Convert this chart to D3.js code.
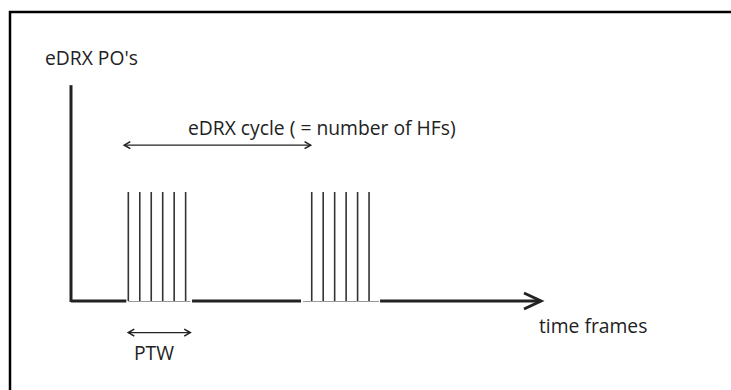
<!DOCTYPE html>
<html>
  <head>
    <meta charset="utf-8">
    <title>eDRX PO's</title>
    <style>
      body { margin: 0; background: #fff; }
      text { font-family: 'Open Sans', sans-serif; fill: #222; }
    </style>
  </head>
  <body>
    <div id="chart"></div>
    <script src="https://cdn.jsdelivr.net/npm/d3@7"></script>
    <script>
      // paging occasions (time units), one array per PTW
      var ptw1 = [5, 6, 7, 8, 9, 10];
      var ptw2 = [21, 22, 23, 24, 25, 26];
      var poHeight = 1;
      // axis line pieces: thick where idle, thin under each PTW
      var thickSegments = [[0, 5], [10.56, 20.24], [26.96, 41]];
      var thinSegments = [[5, 10.4], [20.24, 26.87]];
      // annotation spans
      var cycleSpan = [4.65, 20.9];
      var ptwSpan = [5, 10.4];
      var labels = {
        yTitle: "eDRX PO's",
        cycle: 'eDRX cycle ( = number of HFs)',
        ptw: 'PTW',
        xTitle: 'time frames'
      };

      var width = 731;
      var height = 390;
      var fontSize = 19.3;
      var svg = d3.select('#chart')
        .append('svg')
        .attr('width', width)
        .attr('height', height);

      var x = d3.scaleLinear().domain([0, 41]).range([71, 541]);
      var y = d3.scaleLinear().domain([0, 2]).range([301, 83]);

      // frame: top and left edges only
      svg.append('path')
        .attr('d', 'M10,' + height + 'V12H' + width)
        .attr('fill', 'none')
        .attr('stroke', '#000')
        .attr('stroke-width', 2.5);

      // y axis
      svg.append('line')
        .attr('x1', x(0)).attr('x2', x(0))
        .attr('y1', y(0) + 1).attr('y2', y(1.98))
        .attr('stroke', '#222').attr('stroke-width', 3);

      // x axis pieces
      svg.selectAll('line.thick')
        .data(thickSegments)
        .enter().append('line')
        .attr('class', 'thick')
        .attr('x1', function(d) { return x(d[0]); })
        .attr('x2', function(d) { return x(d[1]) - 2; })
        .attr('y1', y(0)).attr('y2', y(0))
        .attr('stroke', '#222').attr('stroke-width', 3);
      svg.selectAll('line.thin')
        .data(thinSegments)
        .enter().append('line')
        .attr('class', 'thin')
        .attr('x1', function(d) { return x(d[0]); })
        .attr('x2', function(d) { return x(d[1]); })
        .attr('y1', y(0) + 0.5).attr('y2', y(0) + 0.5)
        .attr('stroke', '#999').attr('stroke-width', 1);

      // x axis arrow head
      var tip = x(41);
      svg.append('path')
        .attr('d', 'M' + (tip - 17) + ',' + (y(0) - 8) + 'L' + tip + ',' + y(0) +
          'L' + (tip - 17) + ',' + (y(0) + 8))
        .attr('fill', 'none')
        .attr('stroke', '#222').attr('stroke-width', 3);

      // paging occasions
      svg.selectAll('line.po')
        .data(ptw1.concat(ptw2))
        .enter().append('line')
        .attr('class', 'po')
        .attr('x1', function(d) { return x(d); })
        .attr('x2', function(d) { return x(d); })
        .attr('y1', y(0))
        .attr('y2', y(poHeight))
        .attr('stroke', '#333').attr('stroke-width', 1.6);

      function doubleArrow(span, yv) {
        var x0 = x(span[0]), x1 = x(span[1]), yy = y(yv);
        svg.append('line')
          .attr('x1', x0).attr('x2', x1)
          .attr('y1', yy).attr('y2', yy)
          .attr('stroke', '#222').attr('stroke-width', 1.3);
        svg.append('path')
          .attr('d', 'M' + (x0 + 6) + ',' + (yy - 3.5) + 'L' + x0 + ',' + yy + 'L' + (x0 + 6) + ',' + (yy + 3.5) +
            'M' + (x1 - 6) + ',' + (yy - 3.5) + 'L' + x1 + ',' + yy + 'L' + (x1 - 6) + ',' + (yy + 3.5))
          .attr('fill', 'none')
          .attr('stroke', '#222').attr('stroke-width', 1.6);
      }
      doubleArrow(cycleSpan, 1.43);
      doubleArrow(ptwSpan, -0.29);

      svg.append('text').attr('x', 45).attr('y', 65)
        .attr('font-size', fontSize).text(labels.yTitle);
      svg.append('text').attr('x', 188).attr('y', 135)
        .attr('font-size', fontSize).text(labels.cycle);
      svg.append('text').attr('x', 134).attr('y', 360)
        .attr('font-size', fontSize).text(labels.ptw);
      svg.append('text').attr('x', 539).attr('y', 333)
        .attr('font-size', fontSize).text(labels.xTitle);
    </script>
  </body>
</html>
